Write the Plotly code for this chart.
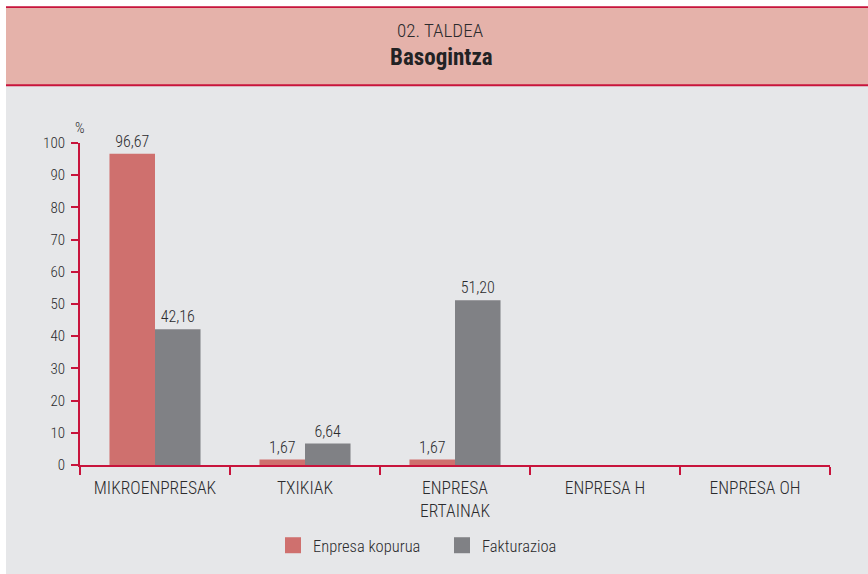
import plotly.graph_objects as go

categories = ["MIKROENPRESAK", "TXIKIAK", "ENPRESA<br>ERTAINAK", "ENPRESA H", "ENPRESA OH"]
enpresa_kopurua = [96.67, 1.67, 1.67, None, None]
fakturazioa = [42.16, 6.64, 51.20, None, None]
series_names = ["Enpresa kopurua", "Fakturazioa"]
y_ticks = [0, 10, 20, 30, 40, 50, 60, 70, 80, 90, 100]

FONT = "Roboto Condensed, Liberation Sans Narrow, Roboto, sans-serif"
TXT = "#2b2b2d"
AXIS = "#c8143c"
RED = "#cf706e"
GRAY = "#808185"
BG = "#e6e7e9"
HEAD = "#e5b2aa"
LIGHT = 300

def fmt(v):
    return "" if v is None else f"{v:.2f}".replace(".", ",")

W, H = 868, 574
L, R, T, B = 80, 38, 143, 108
pw, ph = W - L - R, H - T - B

def px(x):
    return (x - L) / pw

def py(y):
    return (H - B - y) / ph

fig = go.Figure()
for name, vals, col in [(series_names[0], enpresa_kopurua, RED), (series_names[1], fakturazioa, GRAY)]:
    fig.add_trace(go.Bar(x=categories, y=vals, name=name, showlegend=False,
                         marker=dict(color=col, line_width=0), text=[fmt(v) for v in vals],
                         textposition="outside", cliponaxis=False,
                         textfont=dict(family=FONT, size=16, color=TXT, weight=LIGHT)))
# legend entries (no data points)
for name, col in [(series_names[0], RED), (series_names[1], GRAY)]:
    fig.add_trace(go.Scatter(x=[None], y=[None], mode="markers", name=name,
                             marker=dict(symbol="square", size=16, color=col)))

shapes = [
    dict(type="rect", xref="paper", yref="paper", x0=px(6), x1=px(W + 5), y0=py(6), y1=py(H + 5),
         fillcolor=BG, line_width=0, layer="below"),
    dict(type="rect", xref="paper", yref="paper", x0=px(6), x1=px(W + 5), y0=py(7), y1=py(85),
         fillcolor=HEAD, line_width=0, layer="below"),
    dict(type="line", xref="paper", yref="paper", x0=px(6), x1=px(W + 5), y0=py(6.8), y1=py(6.8),
         line=dict(color=AXIS, width=1.8)),
    dict(type="line", xref="paper", yref="paper", x0=px(6), x1=px(W + 5), y0=py(85), y1=py(85),
         line=dict(color=AXIS, width=2)),
]

annotations = [
    dict(text="02. TALDEA", xref="paper", yref="paper", x=px(440), y=py(30.5), showarrow=False,
         font=dict(family=FONT, size=19, color="#2b2b2d", weight=LIGHT), xanchor="center", yanchor="middle"),
    dict(text="<b>Basogintza</b>", xref="paper", yref="paper", x=px(441), y=py(57.5), showarrow=False,
         font=dict(family=FONT, size=23, color="#222224"), xanchor="center", yanchor="middle"),
    dict(text="%", xref="paper", yref="paper", x=px(80), y=py(127.5), showarrow=False,
         font=dict(family=FONT, size=15, color=TXT, weight=LIGHT), xanchor="center", yanchor="middle"),
]

fig.update_layout(
    width=W, height=H,
    margin=dict(l=L, r=R, t=T, b=B, pad=0),
    paper_bgcolor="white", plot_bgcolor="rgba(0,0,0,0)",
    barmode="group", bargap=0.393, bargroupgap=0,
    font=dict(family=FONT, size=17, color=TXT, weight=LIGHT),
    shapes=shapes, annotations=annotations,
    legend=dict(orientation="h", x=px(273), y=py(545.5), xanchor="left", yanchor="middle",
                font=dict(family=FONT, size=16.5, color=TXT, weight=LIGHT), itemsizing="trace",
                bgcolor="rgba(0,0,0,0)", entrywidth=124, entrywidthmode="pixels",
                borderwidth=0),
    showlegend=True,
)
fig.update_xaxes(type="category", showline=True, linecolor=AXIS, linewidth=2,
                 ticks="outside", tickson="boundaries", ticklen=8, tickcolor=AXIS, tickwidth=2,
                 ticklabelstandoff=6,
                 showgrid=False, zeroline=False,
                 tickfont=dict(family=FONT, size=17.5, color=TXT, weight=LIGHT))
fig.update_yaxes(range=[0, 100], tickvals=y_ticks, showline=True, linecolor=AXIS, linewidth=2,
                 ticks="outside", ticklen=7, tickcolor=AXIS, tickwidth=2, ticklabelstandoff=3,
                 showgrid=False, zeroline=False,
                 tickfont=dict(family=FONT, size=15, color=TXT, weight=LIGHT))

fig.write_html("out.html", config={"displayModeBar": False},
               post_script="document.body.style.margin='0px';")
